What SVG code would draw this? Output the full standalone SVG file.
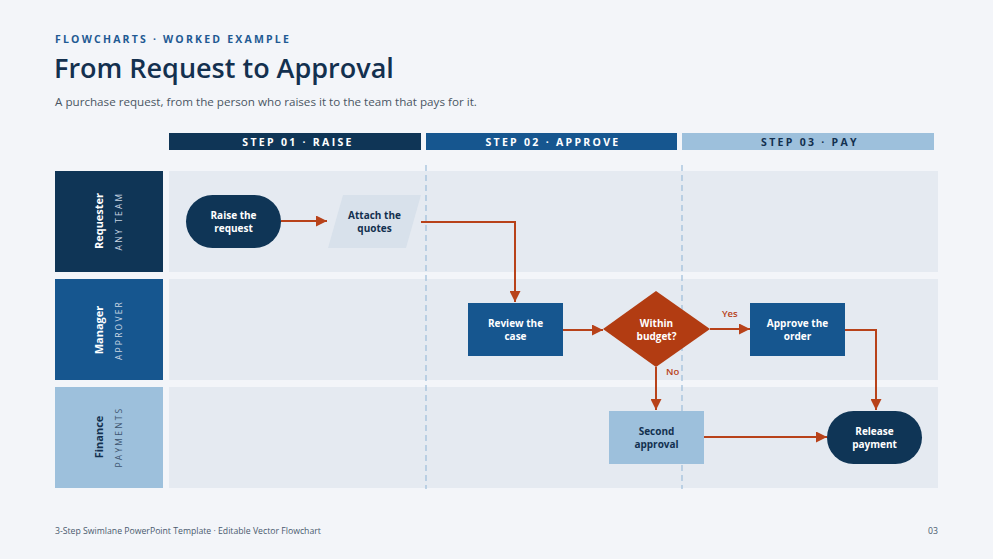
<svg xmlns="http://www.w3.org/2000/svg" width="993" height="559" viewBox="0 0 993 559">
<defs>
<style>
.f{font-family:"Open Sans","Noto Sans","DejaVu Sans",sans-serif}
.step{font-size:10.5px;font-weight:700;letter-spacing:2.3px;text-anchor:middle}
.node{font-size:10px;font-weight:700;text-anchor:middle}
.lane{fill:#e5eaf1}
.conn{fill:none;stroke:#b8421a;stroke-width:2}
.lbl{font-size:9.5px;font-weight:600;fill:#b8421a}
.ln{font-size:11px;font-weight:700;text-anchor:middle}
.ls{font-size:8.5px;letter-spacing:2.2px;text-anchor:middle}
.div{stroke:#a3c1dc;stroke-width:1.3;stroke-dasharray:6 4}
</style>
<marker id="ah" viewBox="0 0 10 10" refX="10" refY="5" markerWidth="11" markerHeight="11" markerUnits="userSpaceOnUse" orient="auto">
<path d="M0,0 L10,5 L0,10 z" fill="#b8421a"/>
</marker>
</defs>
<rect width="993" height="559" fill="#f3f5f9"/>
<text class="f" x="55" y="43" font-size="10.5" font-weight="700" letter-spacing="2.2" fill="#1f5a93">FLOWCHARTS · WORKED EXAMPLE</text>
<text class="f" x="54" y="78" font-size="27" font-weight="600" fill="#13304f">From Request to Approval</text>
<text class="f" x="55" y="106" font-size="11.65" fill="#4a5563">A purchase request, from the person who raises it to the team that pays for it.</text>

<g id="steps">
<rect x="169" y="133" width="252" height="17" fill="#0f3556"/>
<text class="f step" x="298" y="145.5" fill="#ffffff">STEP 01 · RAISE</text>
<rect x="426" y="133" width="251" height="17" fill="#16568f"/>
<text class="f step" x="553" y="145.5" fill="#ffffff">STEP 02 · APPROVE</text>
<rect x="682" y="133" width="252" height="17" fill="#9dc0dc"/>
<text class="f step" x="810" y="145.5" fill="#13304f">STEP 03 · PAY</text>
</g>

<g id="lanes">
<rect x="55" y="171" width="108" height="101" fill="#0f3556"/>
<rect class="lane" x="169" y="171" width="769" height="101"/>
<text class="f ln" transform="translate(103,221) rotate(-90)" fill="#ffffff">Requester</text>
<text class="f ls" transform="translate(122,221) rotate(-90)" fill="#c9d6e4">ANY TEAM</text>
<rect x="55" y="279" width="108" height="101" fill="#16568f"/>
<rect class="lane" x="169" y="279" width="769" height="101"/>
<text class="f ln" transform="translate(103,330) rotate(-90)" fill="#ffffff">Manager</text>
<text class="f ls" transform="translate(122,330) rotate(-90)" fill="#c9d6e4">APPROVER</text>
<rect x="55" y="387" width="108" height="101" fill="#9dc0dc"/>
<rect class="lane" x="169" y="387" width="769" height="101"/>
<text class="f ln" transform="translate(103,437) rotate(-90)" fill="#13304f">Finance</text>
<text class="f ls" transform="translate(122,437) rotate(-90)" fill="#3e5570">PAYMENTS</text>
</g>

<g id="dividers">
<line class="div" x1="426" y1="165" x2="426" y2="489"/>
<line class="div" x1="682" y1="165" x2="682" y2="489"/>
</g>

<g id="connectors">
<path class="conn" d="M281,221 H327" marker-end="url(#ah)"/>
<path class="conn" d="M421,222 H515 V302" marker-end="url(#ah)"/>
<path class="conn" d="M563,330 H603" marker-end="url(#ah)"/>
<path class="conn" d="M710,329 H750" marker-end="url(#ah)"/>
<text class="f lbl" x="722" y="317">Yes</text>
<path class="conn" d="M656,367 V410" marker-end="url(#ah)"/>
<text class="f lbl" x="666" y="375">No</text>
<path class="conn" d="M845,330 H876 V410" marker-end="url(#ah)"/>
<path class="conn" d="M704,437 H827" marker-end="url(#ah)"/>
</g>

<g id="raise">
<rect x="186" y="195" width="95" height="53" rx="26.5" fill="#0f3556"/>
<text class="f node" x="233.5" y="219" fill="#ffffff">Raise the</text>
<text class="f node" x="233.5" y="232" fill="#ffffff">request</text>
</g>
<g id="attach">
<polygon points="343,195 421,195 406,248 328,248" fill="#d8e1eb"/>
<text class="f node" x="374.5" y="219" fill="#13304f">Attach the</text>
<text class="f node" x="374.5" y="232" fill="#13304f">quotes</text>
</g>
<g id="review">
<rect x="468" y="303" width="95" height="53" fill="#16568f"/>
<text class="f node" x="515.5" y="327" fill="#ffffff">Review the</text>
<text class="f node" x="515.5" y="340" fill="#ffffff">case</text>
</g>
<g id="decision">
<polygon points="656,291 710,329 656,367 603,329" fill="#b23c12"/>
<text class="f node" x="656.5" y="327" fill="#ffffff">Within</text>
<text class="f node" x="656.5" y="340" fill="#ffffff">budget?</text>
</g>
<g id="approve">
<rect x="750" y="303" width="95" height="53" fill="#16568f"/>
<text class="f node" x="797.5" y="327" fill="#ffffff">Approve the</text>
<text class="f node" x="797.5" y="340" fill="#ffffff">order</text>
</g>
<g id="second">
<rect x="609" y="411" width="95" height="53" fill="#9dc0dc"/>
<text class="f node" x="656.5" y="435" fill="#13304f">Second</text>
<text class="f node" x="656.5" y="448" fill="#13304f">approval</text>
</g>
<g id="release">
<rect x="827" y="411" width="95" height="53" rx="26.5" fill="#0f3556"/>
<text class="f node" x="874.5" y="435" fill="#ffffff">Release</text>
<text class="f node" x="874.5" y="448" fill="#ffffff">payment</text>
</g>

<text class="f" x="55" y="534" font-size="8.7" fill="#4a5a6e">3-Step Swimlane PowerPoint Template · Editable Vector Flowchart</text>
<text class="f" x="938" y="534" font-size="8.7" fill="#4a5a6e" text-anchor="end">03</text>
</svg>
